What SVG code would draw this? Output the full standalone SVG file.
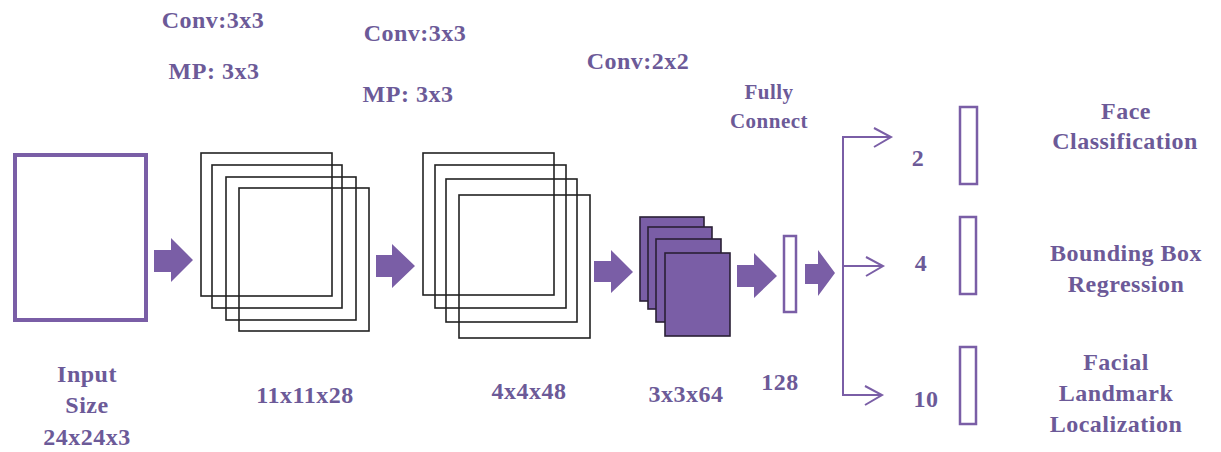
<svg xmlns="http://www.w3.org/2000/svg" width="1221" height="452" viewBox="0 0 1221 452">
<style>
text{font-family:"Liberation Serif","Times New Roman",serif;font-weight:bold;fill:#6c5a98;text-anchor:middle;font-size:24px;letter-spacing:0.5px}
.sm{font-size:21px}
.fm{fill:none;stroke:#222;stroke-width:1.6}
.ff{fill:#7a5ea6;stroke:#2a2035;stroke-width:1.6}
.blk{fill:#7a5ea6}
.ob{fill:#fff;stroke:#7a5ea6;stroke-width:2.5}
.ln{fill:none;stroke:#7a5ea6;stroke-width:2;stroke-linejoin:miter}
</style>
<rect width="1221" height="452" fill="#fff"/>
<g id="input">
<rect x="15" y="155" width="131" height="165" fill="#fff" stroke="#7a5ea6" stroke-width="4"/>
<text x="87" y="382">Input</text>
<text x="87" y="413">Size</text>
<text x="87" y="445">24x24x3</text>
</g>
<g id="conv1">
<rect class="fm" x="201" y="153" width="131" height="143"/>
<rect class="fm" x="212" y="165" width="130" height="143"/>
<rect class="fm" x="226" y="177" width="130" height="143"/>
<rect class="fm" x="239" y="188" width="130" height="143"/>
<text x="213" y="28">Conv:3x3</text>
<text x="214" y="79">MP: 3x3</text>
<text x="305" y="403">11x11x28</text>
</g>
<g id="conv2">
<rect class="fm" x="423" y="153" width="131" height="142"/>
<rect class="fm" x="435" y="165" width="131" height="143"/>
<rect class="fm" x="446" y="179" width="131" height="143"/>
<rect class="fm" x="459" y="195" width="131" height="143"/>
<text x="415" y="41">Conv:3x3</text>
<text x="408" y="102">MP: 3x3</text>
<text x="529" y="399">4x4x48</text>
</g>
<g id="conv3">
<rect class="ff" x="640" y="217" width="64" height="84"/>
<rect class="ff" x="648" y="227" width="64" height="82"/>
<rect class="ff" x="656" y="239" width="65" height="83"/>
<rect class="ff" x="665" y="253" width="65" height="83"/>
<text x="638" y="69">Conv:2x2</text>
<text x="686" y="402">3x3x64</text>
</g>
<g id="fc">
<rect class="ob" x="784" y="236" width="12" height="76"/>
<text class="sm" x="769" y="99">Fully</text>
<text class="sm" x="769" y="128">Connect</text>
<text x="780" y="390">128</text>
</g>
<g id="out-face">
<rect class="ob" x="960" y="107" width="17" height="77"/>
<text x="918" y="166">2</text>
<text x="1126" y="119">Face</text>
<text x="1125" y="149">Classification</text>
</g>
<g id="out-bbox">
<rect class="ob" x="960" y="217" width="16" height="77"/>
<text x="921" y="271">4</text>
<text x="1126" y="261">Bounding Box</text>
<text x="1126" y="292">Regression</text>
</g>
<g id="out-landmark">
<rect class="ob" x="960" y="347" width="16" height="77"/>
<text x="926" y="407">10</text>
<text x="1116" y="370">Facial</text>
<text x="1116" y="401">Landmark</text>
<text x="1116" y="432">Localization</text>
</g>
<g id="connectors">
<polygon class="blk" points="154,250 171,250 171,238 193,260 171,282 171,272 154,272"/>
<polygon class="blk" points="376,255 392,255 392,244 415,266 392,288 392,277 376,277"/>
<polygon class="blk" points="594,261 611,261 611,250 633,272 611,293 611,282 594,282"/>
<polygon class="blk" points="737,265 754,265 754,253 777,276 754,298 754,287 737,287"/>
<polygon class="blk" points="805,264 818,264 818,250 835,273 818,296 818,284 805,284"/>
<path class="ln" d="M891,137 H843 V395 H882 M843,266 H883"/>
<path class="ln" d="M874,128 L891,137 L874,147"/>
<path class="ln" d="M866,257 L883,266 L866,276"/>
<path class="ln" d="M865,386 L882,395 L865,405"/>
</g>
</svg>
